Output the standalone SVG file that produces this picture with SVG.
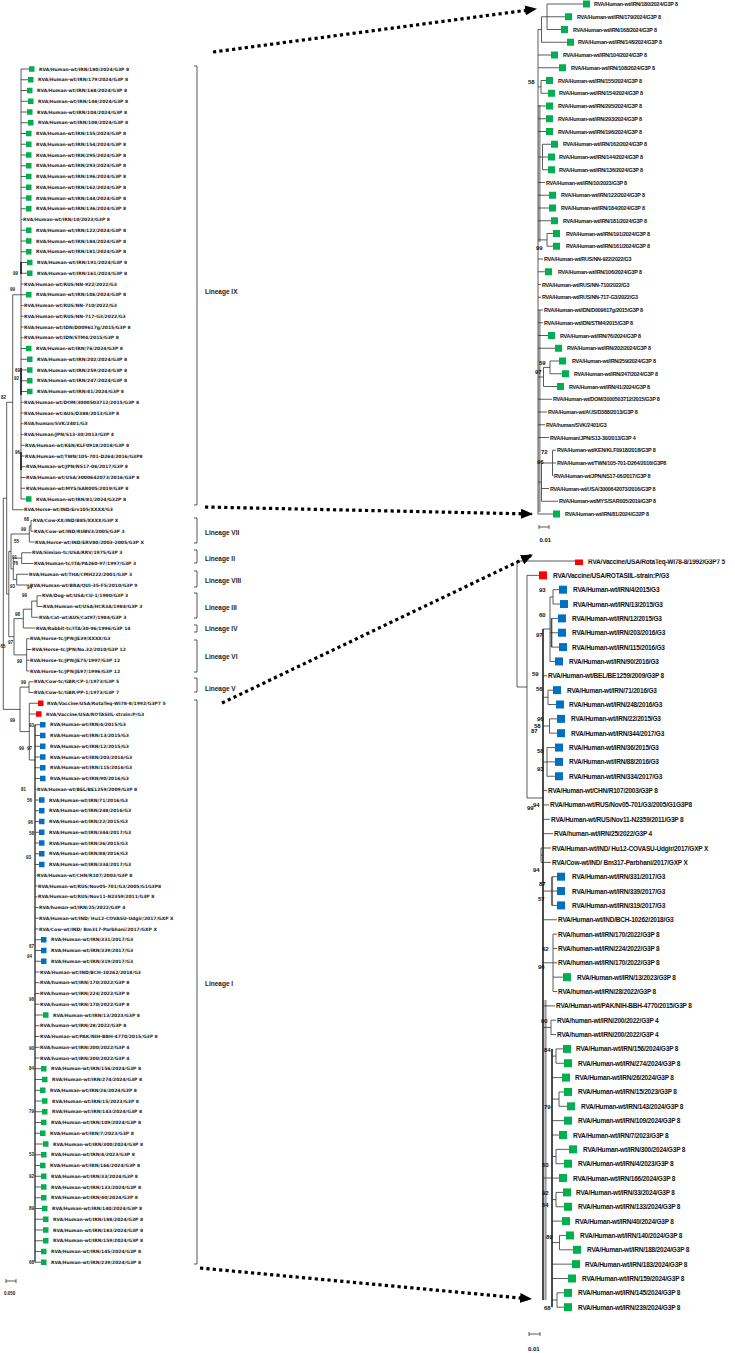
<svg xmlns="http://www.w3.org/2000/svg" width="735" height="1353" viewBox="0 0 735 1353">
<style>
.e{fill:none;stroke:#333;stroke-width:0.8}
.k{fill:none;stroke:#111;stroke-width:1.5}
.gy{fill:none;stroke:#9a9a9a;stroke-width:2.2}
.sg{fill:#00B050}.sb{fill:#0070C0}.sr{fill:#FF0000}
.t1{font-family:"DejaVu Sans",sans-serif;font-weight:bold;font-size:4.5px;fill:#222;dominant-baseline:central}
.t2{font-family:"Liberation Sans",Arial,sans-serif;font-weight:bold;font-size:5.4px;letter-spacing:-0.2px;fill:#111;dominant-baseline:central}
.t3{font-family:"Liberation Sans",Arial,sans-serif;font-weight:bold;font-size:6.5px;letter-spacing:-0.2px;fill:#111;dominant-baseline:central}
.b1{font-family:"Liberation Sans",Arial,sans-serif;font-weight:bold;font-size:4.5px;fill:#222;dominant-baseline:central}
.b2{font-family:"Liberation Sans",Arial,sans-serif;font-weight:bold;font-size:6px;fill:#111;dominant-baseline:central}
.ln{font-family:"Liberation Sans",Arial,sans-serif;font-weight:bold;font-size:6.5px;fill:#222;dominant-baseline:central}
.br{fill:none;stroke:#555;stroke-width:1}
.dt{fill:none;stroke:#000;stroke-width:3.2;stroke-dasharray:3.2 3.2}
</style>
<defs>
<marker id="ah" viewBox="0 0 12 10" refX="11" refY="5" markerWidth="12" markerHeight="10" markerUnits="userSpaceOnUse" orient="auto"><path d="M0,0 L12,5 L0,10 z" fill="#000"/></marker>
<clipPath id="cut"><rect x="500" y="559.5" width="235" height="20"/></clipPath>
</defs>
<rect width="735" height="1353" fill="#fff"/>

<g id="edges">
<path class="e" d="M21,69V499 M21,69H29 M21,79.75H28 M21,90.5H27 M21,101.25H28 M21,112H27 M21,122.75H28 M21,133.5H26 M21,144.25H26 M21,155H26 M21,165.75H26 M21,176.5H26 M21,187.25H26 M21,198H26 M21,208.75H26 M21,219.5H22.5 M21,230.25H26 M21,241H26 M21,251.75H26 M21,262.5H27 M21,273.25H27 M21,284H23.5 M21,294.75H26 M21,305.5H23.5 M21,316.25H23.5 M21,327H23.5 M21,337.75H23.5 M21,348.5H26 M21,359.25H27 M21,370H27 M21,380.75H27 M21,391.5H27 M21,402.25H23.5 M21,413H23.5 M21,423.75H23.5 M21,434.5H23.5 M21,445.25H24.5 M21,456H24.5 M21,466.75H25.5 M21,477.5H25.5 M21,488.25H25.5 M21,499H26"/>
<path class="k" d="M21,262V274 M21,368V395 M21,452V470"/>
<path class="e" d="M12.7,294.75H21 M12.7,294.75V509.75H23.5 M6.7,402.25H12.7 M6.7,402.25V594.1 M3.3,498.2H6.7 M3.3,498.2V709.4H20 M6.7,594.1H8.8 M8.8,551.5V636.7 M8.8,551.5H11 M8.8,636.7H14 M11,534V568.9 M11,534H29.3 M11,568.9H13.3 M29.3,525.9V542 M29.3,525.9H31 M31,520.5V531.25 M31,520.5H32.5 M31,531.25H33.5 M29.3,542H34.5 M13.3,558.1V579.6 M13.3,558.1H21.7 M13.3,579.6H16.7 M21.7,552.75V563.5 M21.7,552.75H31.5 M21.7,563.5H33.5 M16.7,574.25V585 M16.7,574.25H28.5 M16.7,585H29.5 M14,618.6V654.9 M14,618.6H23.3 M14,654.9H26.7 M23.3,609.2V628 M23.3,609.2H31.7 M23.3,628H35.5 M31.7,601.1V617.25 M31.7,601.1H37 M31.7,617.25H38.5 M37,595.75V606.5 M37,595.75H41.5 M37,606.5H42.5 M26.7,638.75V671 M26.7,638.75H29.5 M26.7,649.5H31.5 M26.7,660.25H29.5 M26.7,671H29.5 M20,687.1V731.6 M20,687.1H29 M20,731.6H29.3 M29,681.75V692.5 M29,681.75H33.5 M29,692.5H33.5 M29.3,703.25V760 M29.3,703.25H38 M29.3,714H36 M29.3,760H35"/>
<path class="k" d="M35,724.75V1262.25" style="stroke-width:1.2"/>
<path class="e" d="M35,724.75H40 M35,735.5H40 M35,746.25H40 M35,757H40 M35,767.75H40 M35,778.5H40 M35,789.25H36.5 M35,800H39 M35,810.75H39 M35,821.5H39 M35,832.25H39 M35,843H39 M35,853.75H39 M35,864.5H39 M35,875.25H36.5 M35,886H37.5 M35,896.75H37.5 M35,907.5H38.5 M35,918.25H38.5 M35,929H38.5 M35,939.75H41 M35,950.5H41 M35,961.25H41 M35,972H39.5 M35,982.75H39.5 M35,993.5H39.5 M35,1004.25H39.5 M35,1015H43 M35,1025.75H39.5 M35,1036.5H39.5 M35,1047.25H39.5 M35,1058H39.5 M35,1068.75H41 M35,1079.5H42 M35,1090.25H40 M35,1101H42 M35,1111.75H42 M35,1122.5H41 M35,1133.25H40 M35,1144H43 M35,1154.75H41 M35,1165.5H40 M35,1176.25H41 M35,1187H41 M35,1197.75H41 M35,1208.5H42 M35,1219.25H43 M35,1230H43 M35,1240.75H43 M35,1251.5H41 M35,1262.25H41"/>
<path class="e" d="M6,1281H16 M6,1279V1283 M16,1279V1283"/>
<path class="gy" d="M539.5,105V242 M539.5,310V512"/>
<path class="e" d="M538,29.5V514 M538,29.5H541.5 M541.5,16.75V42.25 M541.5,16.75H547 M541.5,42.25H567 M547,4V29.5 M547,4H583 M547,16.75H565 M547,29.5H561 M538,55H551 M538,67.75H559 M538,86.9H541 M541,80.5V93.25 M541,80.5H546 M541,93.25H548 M538,106H546 M538,118.75H546 M538,131.5H546 M538,157H542.5 M542.5,144.25V169.75 M542.5,144.25H551 M542.5,157H548 M542.5,169.75H548 M538,182.5H545 M538,195.25H549 M538,208H549 M538,220.75H551 M538,239.9H547 M547,233.5V246.25 M547,233.5H553 M547,246.25H553 M538,259H543 M538,271.75H545 M538,284.5H541 M538,297.25H541 M538,310H543 M538,322.75H543 M538,335.5H548 M538,348.25H555 M538,377H543.5 M543.5,367.4V386.5 M543.5,367.4H550 M550,361V373.75 M550,361H559 M550,373.75H562 M543.5,386.5H557 M538,399.25H552 M538,412H547 M538,424.75H545 M538,437.5H549 M538,482.1H541.5 M541.5,463V501.25 M541.5,463H552.5 M552.5,450.25V475.75 M552.5,450.25H556 M552.5,463H556 M552.5,475.75H553.5 M541.5,488.5H549 M541.5,501.25H558 M538,514H553"/>
<path class="e" d="M539,527H549 M539,525V529 M549,525V529"/>
<path class="gy" d="M551.5,618.4V647.1 M552,876.7V905.4 M545.5,1000V1300"/>
<path class="e" d="M517,561V687 M517,561H575 M517,687H527 M527,575.35V798 M527,575.35H539 M527,798H543"/>
<path class="k" d="M543,629V1300 M552,1048.9V1307.2"/>
<path class="e" d="M543,629H550 M550,596.9V661.45 M550,596.9H553 M553,589.7V604.05 M553,589.7H559 M553,604.05H560 M550,632.75H551.5 M551.5,618.4V647.1 M551.5,618.4H558 M551.5,632.75H558 M551.5,647.1H559 M550,661.45H555 M543,675.8H547 M543,697.3H548 M548,690.15V704.5 M548,690.15H553 M548,704.5H556 M543,726H549.5 M549.5,718.85V733.2 M549.5,718.85H557 M549.5,733.2H557 M543,762H547 M547,747.55V776.25 M547,747.55H555 M547,761.9H555 M547,776.25H555 M543,790.6H547 M543,804.95H549 M543,819.3H550 M543,833.65H553 M543,855.2H541 M541,848V862.35 M541,848H551 M541,862.35H551 M543,891.05H552 M552,876.7V905.4 M552,876.7H557 M552,891.05H557 M552,905.4H557 M543,919.75H557 M543,962.8H553 M553,934.1V991.5 M553,934.1H557 M553,948.45H557 M553,962.8H557 M553,977.15H563 M553,991.5H557 M543,1005.85H555 M543,1027.4H551 M551,1020.2V1034.55 M551,1020.2H556 M551,1034.55H556 M543,1178H552 M552,1056.1H556 M556,1048.9V1063.25 M556,1048.9H563 M556,1063.25H564 M552,1077.6H562 M552,1099.1H559 M559,1091.95V1106.3 M559,1091.95H564 M559,1106.3H567 M552,1120.65H564 M552,1135H559 M552,1156.5H556 M556,1149.35V1163.7 M556,1149.35H569 M556,1163.7H564 M552,1178.05H559 M552,1199.6H556 M556,1192.4V1206.75 M556,1192.4H563 M556,1206.75H564 M552,1221.1H562 M552,1242.6H559.5 M559.5,1235.45V1249.8 M559.5,1235.45H566 M559.5,1249.8H573 M552,1264.15H572 M552,1278.5H568 M552,1300H557 M557,1292.85V1307.2 M557,1292.85H564 M557,1307.2H564"/>
<path class="e" d="M529,1334H540 M529,1332V1336 M540,1332V1336"/>
</g>

<g id="connectors">
<path class="dt" d="M213,52 L536,9" marker-end="url(#ah)"/>
<path class="dt" d="M205,507 L532,514" marker-end="url(#ah)"/>
<path class="dt" d="M222,703 L532,555" marker-end="url(#ah)"/>
<path class="dt" d="M200,1268 L531,1299" marker-end="url(#ah)"/>
</g>

<g id="lineages">
<path class="br" d="M194,66H197V505H194 M194,518H197V543H194 M194,550H197V563H194 M194,571H197V587H194 M194,593H197V618H194 M194,625H197V632H194 M194,640H197V672H194 M194,678H197V692H194 M194,700H197V1264H194"/>
<text class="ln" x="205" y="291">Lineage IX</text>
<text class="ln" x="205" y="532">Lineage VII</text>
<text class="ln" x="205" y="558">Lineage II</text>
<text class="ln" x="205" y="580">Lineage VIII</text>
<text class="ln" x="205" y="607">Lineage III</text>
<text class="ln" x="205" y="628">Lineage IV</text>
<text class="ln" x="205" y="656">Lineage VI</text>
<text class="ln" x="205" y="688">Lineage V</text>
<text class="ln" x="205" y="983">Lineage I</text>
</g>

<g id="bootstrap">
<text class="b1" x="13" y="273">99</text>
<text class="b1" x="10" y="289">99</text>
<text class="b1" x="15" y="370">69</text>
<text class="b1" x="14" y="378">92</text>
<text class="b1" x="1" y="397">82</text>
<text class="b1" x="15" y="452">96</text>
<text class="b1" x="24" y="519">68</text>
<text class="b1" x="21" y="529">99</text>
<text class="b1" x="14" y="541">55</text>
<text class="b1" x="12" y="557">91</text>
<text class="b1" x="13" y="563">76</text>
<text class="b1" x="10" y="586">93</text>
<text class="b1" x="27" y="587">94</text>
<text class="b1" x="22" y="595">99</text>
<text class="b1" x="15" y="614">98</text>
<text class="b1" x="8" y="642">97</text>
<text class="b1" x="0.5" y="646">65</text>
<text class="b1" x="17" y="661">99</text>
<text class="b1" x="21" y="682">99</text>
<text class="b1" x="10" y="720">99</text>
<text class="b1" x="29" y="725">93</text>
<text class="b1" x="19" y="748">99</text>
<text class="b1" x="27" y="748">97</text>
<text class="b1" x="21" y="789">81</text>
<text class="b1" x="27" y="800">56</text>
<text class="b1" x="28" y="822">96</text>
<text class="b1" x="29" y="833">58</text>
<text class="b1" x="26" y="857">93</text>
<text class="b1" x="29" y="946">87</text>
<text class="b1" x="27" y="956">94</text>
<text class="b1" x="29" y="999">96</text>
<text class="b1" x="29" y="1048">90</text>
<text class="b1" x="29" y="1068">84</text>
<text class="b1" x="29" y="1111">79</text>
<text class="b1" x="29" y="1154">53</text>
<text class="b1" x="29" y="1176">92</text>
<text class="b1" x="29" y="1208">89</text>
<text class="b1" x="29" y="1262">68</text>
<text class="b1" x="4" y="1293">0.050</text>
<text class="b2" x="528" y="82">58</text>
<text class="b2" x="536" y="248">99</text>
<text class="b2" x="539" y="363">59</text>
<text class="b2" x="535" y="372">97</text>
<text class="b2" x="541" y="452">72</text>
<text class="b2" x="537" y="462">96</text>
<text class="b2" x="539.5" y="540">0.01</text>
<text class="b2" x="539" y="590">93</text>
<text class="b2" x="539" y="615">60</text>
<text class="b2" x="536" y="635">97</text>
<text class="b2" x="532" y="674">59</text>
<text class="b2" x="536" y="689">56</text>
<text class="b2" x="537" y="719">96</text>
<text class="b2" x="534" y="726">58</text>
<text class="b2" x="531" y="731">87</text>
<text class="b2" x="537" y="751">58</text>
<text class="b2" x="537" y="769">93</text>
<text class="b2" x="527" y="808">99</text>
<text class="b2" x="533" y="805">94</text>
<text class="b2" x="533" y="870">94</text>
<text class="b2" x="539" y="884">87</text>
<text class="b2" x="538" y="899">57</text>
<text class="b2" x="542" y="949">62</text>
<text class="b2" x="538" y="967">96</text>
<text class="b2" x="541" y="1021">90</text>
<text class="b2" x="544" y="1050">84</text>
<text class="b2" x="544" y="1107">79</text>
<text class="b2" x="542" y="1165">53</text>
<text class="b2" x="542" y="1193">92</text>
<text class="b2" x="542" y="1205">54</text>
<text class="b2" x="546" y="1237">89</text>
<text class="b2" x="544" y="1308">68</text>
<text class="b2" x="528" y="1349">0.01</text>
</g>

<g id="left-leaves">
<g id="l1"><rect class="sg" x="29" y="66.25" width="5.5" height="5.5"/><text class="t1" x="39" y="69">RVA/Human-wt/IRN/180/2024/G3P 8</text></g>
<g id="l2"><rect class="sg" x="28" y="77" width="5.5" height="5.5"/><text class="t1" x="38" y="79.75">RVA/Human-wt/IRN/179/2024/G3P 8</text></g>
<g id="l3"><rect class="sg" x="27" y="87.75" width="5.5" height="5.5"/><text class="t1" x="37" y="90.5">RVA/Human-wt/IRN/168/2024/G3P 8</text></g>
<g id="l4"><rect class="sg" x="28" y="98.5" width="5.5" height="5.5"/><text class="t1" x="38" y="101.25">RVA/Human-wt/IRN/148/2024/G3P 8</text></g>
<g id="l5"><rect class="sg" x="27" y="109.25" width="5.5" height="5.5"/><text class="t1" x="37" y="112">RVA/Human-wt/IRN/104/2024/G3P 8</text></g>
<g id="l6"><rect class="sg" x="28" y="120" width="5.5" height="5.5"/><text class="t1" x="38" y="122.75">RVA/Human-wt/IRN/108/2024/G3P 8</text></g>
<g id="l7"><rect class="sg" x="26" y="130.75" width="5.5" height="5.5"/><text class="t1" x="36" y="133.5">RVA/Human-wt/IRN/155/2024/G3P 8</text></g>
<g id="l8"><rect class="sg" x="26" y="141.5" width="5.5" height="5.5"/><text class="t1" x="36" y="144.25">RVA/Human-wt/IRN/154/2024/G3P 8</text></g>
<g id="l9"><rect class="sg" x="26" y="152.25" width="5.5" height="5.5"/><text class="t1" x="36" y="155">RVA/Human-wt/IRN/295/2024/G3P 8</text></g>
<g id="l10"><rect class="sg" x="26" y="163" width="5.5" height="5.5"/><text class="t1" x="36" y="165.75">RVA/Human-wt/IRN/293/2024/G3P 8</text></g>
<g id="l11"><rect class="sg" x="26" y="173.75" width="5.5" height="5.5"/><text class="t1" x="36" y="176.5">RVA/Human-wt/IRN/196/2024/G3P 8</text></g>
<g id="l12"><rect class="sg" x="26" y="184.5" width="5.5" height="5.5"/><text class="t1" x="36" y="187.25">RVA/Human-wt/IRN/162/2024/G3P 8</text></g>
<g id="l13"><rect class="sg" x="26" y="195.25" width="5.5" height="5.5"/><text class="t1" x="36" y="198">RVA/Human-wt/IRN/144/2024/G3P 8</text></g>
<g id="l14"><rect class="sg" x="26" y="206" width="5.5" height="5.5"/><text class="t1" x="36" y="208.75">RVA/Human-wt/IRN/136/2024/G3P 8</text></g>
<g id="l15"><text class="t1" x="23" y="219.5">RVA/Human-wt/IRN/10/2023/G3P 8</text></g>
<g id="l16"><rect class="sg" x="26" y="227.5" width="5.5" height="5.5"/><text class="t1" x="36" y="230.25">RVA/Human-wt/IRN/122/2024/G3P 8</text></g>
<g id="l17"><rect class="sg" x="26" y="238.25" width="5.5" height="5.5"/><text class="t1" x="36" y="241">RVA/Human-wt/IRN/184/2024/G3P 8</text></g>
<g id="l18"><rect class="sg" x="26" y="249" width="5.5" height="5.5"/><text class="t1" x="36" y="251.75">RVA/Human-wt/IRN/181/2024/G3P 8</text></g>
<g id="l19"><rect class="sg" x="27" y="259.75" width="5.5" height="5.5"/><text class="t1" x="37" y="262.5">RVA/Human-wt/IRN/191/2024/G3P 8</text></g>
<g id="l20"><rect class="sg" x="27" y="270.5" width="5.5" height="5.5"/><text class="t1" x="37" y="273.25">RVA/Human-wt/IRN/161/2024/G3P 8</text></g>
<g id="l21"><text class="t1" x="24" y="284">RVA/Human-wt/RUS/NN-922/2022/G3</text></g>
<g id="l22"><rect class="sg" x="26" y="292" width="5.5" height="5.5"/><text class="t1" x="36" y="294.75">RVA/Human-wt/IRN/106/2024/G3P 8</text></g>
<g id="l23"><text class="t1" x="24" y="305.5">RVA/Human-wt/RUS/NN-710/2022/G3</text></g>
<g id="l24"><text class="t1" x="24" y="316.25">RVA/Human-wt/RUS/NN-717-G3/2022/G3</text></g>
<g id="l25"><text class="t1" x="24" y="327">RVA/Human-wt/IDN/D009617g/2015/G3P 8</text></g>
<g id="l26"><text class="t1" x="24" y="337.75">RVA/Human-wt/IDN/STM4/2015/G3P 8</text></g>
<g id="l27"><rect class="sg" x="26" y="345.75" width="5.5" height="5.5"/><text class="t1" x="36" y="348.5">RVA/Human-wt/IRN/76/2024/G3P 8</text></g>
<g id="l28"><rect class="sg" x="27" y="356.5" width="5.5" height="5.5"/><text class="t1" x="37" y="359.25">RVA/Human-wt/IRN/202/2024/G3P 8</text></g>
<g id="l29"><rect class="sg" x="27" y="367.25" width="5.5" height="5.5"/><text class="t1" x="37" y="370">RVA/Human-wt/IRN/259/2024/G3P 8</text></g>
<g id="l30"><rect class="sg" x="27" y="378" width="5.5" height="5.5"/><text class="t1" x="37" y="380.75">RVA/Human-wt/IRN/247/2024/G3P 8</text></g>
<g id="l31"><rect class="sg" x="27" y="388.75" width="5.5" height="5.5"/><text class="t1" x="37" y="391.5">RVA/Human-wt/IRN/41/2024/G3P 8</text></g>
<g id="l32"><text class="t1" x="24" y="402.25">RVA/Human-wt/DOM/3000503712/2015/G3P 8</text></g>
<g id="l33"><text class="t1" x="24" y="413">RVA/Human-wt/AUS/D388/2013/G3P 8</text></g>
<g id="l34"><text class="t1" x="24" y="423.75">RVA/human/SVK/2401/G3</text></g>
<g id="l35"><text class="t1" x="24" y="434.5">RVA/Human/JPN/S13-30/2013/G3P 4</text></g>
<g id="l36"><text class="t1" x="25" y="445.25">RVA/Human-wt/KEN/KLF0918/2018/G3P 8</text></g>
<g id="l37"><text class="t1" x="25" y="456">RVA/Human-wt/TWN/105-701-D264/2016/G3P8</text></g>
<g id="l38"><text class="t1" x="26" y="466.75">RVA/Human-wt/JPN/NS17-06/2017/G3P 8</text></g>
<g id="l39"><text class="t1" x="26" y="477.5">RVA/Human-wt/USA/3000642073/2016/G3P 8</text></g>
<g id="l40"><text class="t1" x="26" y="488.25">RVA/Human-wt/MYS/SAR005/2019/G3P 8</text></g>
<g id="l41"><rect class="sg" x="26" y="496.25" width="5.5" height="5.5"/><text class="t1" x="36" y="499">RVA/Human-wt/IRN/81/2024/G32P 8</text></g>
<g id="l42"><text class="t1" x="24" y="509.75">RVA/Horse-wt/IND/Erv105/XXXX/G3</text></g>
<g id="l43"><text class="t1" x="33" y="520.5">RVA/Cow-XX/IND/B85/XXXX/G3P X</text></g>
<g id="l44"><text class="t1" x="34" y="531.25">RVA/Cow-wt/IND/RUBV3/2005/G3P 3</text></g>
<g id="l45"><text class="t1" x="35" y="542">RVA/Horse-wt/IND/ERV80/2003-2005/G3P X</text></g>
<g id="l46"><text class="t1" x="32" y="552.75">RVA/Simian-tc/USA/RRV/1975/G3P 3</text></g>
<g id="l47"><text class="t1" x="34" y="563.5">RVA/Human-tc/ITA/PA260-97/1997/G3P 3</text></g>
<g id="l48"><text class="t1" x="29" y="574.25">RVA/Human-wt/THA/CMH222/2001/G3P 3</text></g>
<g id="l49"><text class="t1" x="30" y="585">RVA/Human-wt/BRA/QUI-35-F5/2010/G3P 9</text></g>
<g id="l50"><text class="t1" x="42" y="595.75">RVA/Dog-wt/USA/CU-1/1980/G3P 3</text></g>
<g id="l51"><text class="t1" x="43" y="606.5">RVA/Human-wt/USA/HCR3A/1984/G3P 3</text></g>
<g id="l52"><text class="t1" x="39" y="617.25">RVA/Cat-wt/AUS/Cat97/1984/G3P 3</text></g>
<g id="l53"><text class="t1" x="36" y="628">RVA/Rabbit-tc/ITA/30-96/1996/G3P 14</text></g>
<g id="l54"><text class="t1" x="30" y="638.75">RVA/Horse-tc/JPN/JE39/XXXX/G3</text></g>
<g id="l55"><text class="t1" x="32" y="649.5">RVA/Horse-tc/JPN/No.32/2010/G3P 12</text></g>
<g id="l56"><text class="t1" x="30" y="660.25">RVA/Horse-tc/JPN/JE75/1997/G3P 12</text></g>
<g id="l57"><text class="t1" x="30" y="671">RVA/Horse-tc/JPN/JE97/1996/G3P 12</text></g>
<g id="l58"><text class="t1" x="34" y="681.75">RVA/Cow-tc/GBR/CP-1/1973/G3P 5</text></g>
<g id="l59"><text class="t1" x="34" y="692.5">RVA/Cow-tc/GBR/PP-1/1973/G3P 7</text></g>
<g id="l60"><rect class="sr" x="38" y="700.5" width="5.5" height="5.5"/><text class="t1" x="47" y="703.25">RVA/Vaccine/USA/RotaTeq-WI78-8/1992/G3P7 5</text></g>
<g id="l61"><rect class="sr" x="36" y="711.25" width="5.5" height="5.5"/><text class="t1" x="46" y="714">RVA/Vaccine/USA/ROTASIIL-strain:P/G3</text></g>
<g id="l62"><rect class="sb" x="40" y="722" width="5.5" height="5.5"/><text class="t1" x="50" y="724.75">RVA/Human-wt/IRN/4/2015/G3</text></g>
<g id="l63"><rect class="sb" x="40" y="732.75" width="5.5" height="5.5"/><text class="t1" x="50" y="735.5">RVA/Human-wt/IRN/13/2015/G3</text></g>
<g id="l64"><rect class="sb" x="40" y="743.5" width="5.5" height="5.5"/><text class="t1" x="50" y="746.25">RVA/Human-wt/IRN/12/2015/G3</text></g>
<g id="l65"><rect class="sb" x="40" y="754.25" width="5.5" height="5.5"/><text class="t1" x="50" y="757">RVA/Human-wt/IRN/203/2016/G3</text></g>
<g id="l66"><rect class="sb" x="40" y="765" width="5.5" height="5.5"/><text class="t1" x="50" y="767.75">RVA/Human-wt/IRN/115/2016/G3</text></g>
<g id="l67"><rect class="sb" x="40" y="775.75" width="5.5" height="5.5"/><text class="t1" x="50" y="778.5">RVA/Human-wt/IRN/90/2016/G3</text></g>
<g id="l68"><text class="t1" x="37" y="789.25">RVA/Human-wt/BEL/BE1259/2009/G3P 8</text></g>
<g id="l69"><rect class="sb" x="39" y="797.25" width="5.5" height="5.5"/><text class="t1" x="49" y="800">RVA/Human-wt/IRN/71/2016/G3</text></g>
<g id="l70"><rect class="sb" x="39" y="808" width="5.5" height="5.5"/><text class="t1" x="49" y="810.75">RVA/Human-wt/IRN/248/2016/G3</text></g>
<g id="l71"><rect class="sb" x="39" y="818.75" width="5.5" height="5.5"/><text class="t1" x="49" y="821.5">RVA/Human-wt/IRN/22/2015/G3</text></g>
<g id="l72"><rect class="sb" x="39" y="829.5" width="5.5" height="5.5"/><text class="t1" x="49" y="832.25">RVA/Human-wt/IRN/344/2017/G3</text></g>
<g id="l73"><rect class="sb" x="39" y="840.25" width="5.5" height="5.5"/><text class="t1" x="49" y="843">RVA/Human-wt/IRN/36/2015/G3</text></g>
<g id="l74"><rect class="sb" x="39" y="851" width="5.5" height="5.5"/><text class="t1" x="49" y="853.75">RVA/Human-wt/IRN/88/2016/G3</text></g>
<g id="l75"><rect class="sb" x="39" y="861.75" width="5.5" height="5.5"/><text class="t1" x="49" y="864.5">RVA/Human-wt/IRN/334/2017/G3</text></g>
<g id="l76"><text class="t1" x="37" y="875.25">RVA/Human-wt/CHN/R107/2003/G3P 8</text></g>
<g id="l77"><text class="t1" x="38" y="886">RVA/Human-wt/RUS/Nov05-701/G3/2005/G1G3P8</text></g>
<g id="l78"><text class="t1" x="38" y="896.75">RVA/Human-wt/RUS/Nov11-N2359/2011/G3P 8</text></g>
<g id="l79"><text class="t1" x="39" y="907.5">RVA/human-wt/IRN/25/2022/G3P 4</text></g>
<g id="l80"><text class="t1" x="39" y="918.25">RVA/Human-wt/IND/ Hu12-COVASU-Udgir/2017/GXP X</text></g>
<g id="l81"><text class="t1" x="39" y="929">RVA/Cow-wt/IND/ Bm317-Parbhani/2017/GXP X</text></g>
<g id="l82"><rect class="sb" x="41" y="937" width="5.5" height="5.5"/><text class="t1" x="51" y="939.75">RVA/Human-wt/IRN/331/2017/G3</text></g>
<g id="l83"><rect class="sb" x="41" y="947.75" width="5.5" height="5.5"/><text class="t1" x="51" y="950.5">RVA/Human-wt/IRN/339/2017/G3</text></g>
<g id="l84"><rect class="sb" x="41" y="958.5" width="5.5" height="5.5"/><text class="t1" x="51" y="961.25">RVA/Human-wt/IRN/319/2017/G3</text></g>
<g id="l85"><text class="t1" x="40" y="972">RVA/Human-wt/IND/BCH-10262/2018/G3</text></g>
<g id="l86"><text class="t1" x="40" y="982.75">RVA/human-wt/IRN/170/2022/G3P 8</text></g>
<g id="l87"><text class="t1" x="40" y="993.5">RVA/human-wt/IRN/224/2022/G3P 8</text></g>
<g id="l88"><text class="t1" x="40" y="1004.25">RVA/human-wt/IRN/170/2022/G3P 8</text></g>
<g id="l89"><rect class="sg" x="43" y="1012.25" width="5.5" height="5.5"/><text class="t1" x="53" y="1015">RVA/Human-wt/IRN/13/2023/G3P 8</text></g>
<g id="l90"><text class="t1" x="40" y="1025.75">RVA/human-wt/IRN/28/2022/G3P 8</text></g>
<g id="l91"><text class="t1" x="40" y="1036.5">RVA/Human-wt/PAK/NIH-BBH-4770/2015/G3P 8</text></g>
<g id="l92"><text class="t1" x="40" y="1047.25">RVA/human-wt/IRN/200/2022/G3P 4</text></g>
<g id="l93"><text class="t1" x="40" y="1058">RVA/human-wt/IRN/200/2022/G3P 4</text></g>
<g id="l94"><rect class="sg" x="41" y="1066" width="5.5" height="5.5"/><text class="t1" x="51" y="1068.75">RVA/Human-wt/IRN/156/2024/G3P 8</text></g>
<g id="l95"><rect class="sg" x="42" y="1076.75" width="5.5" height="5.5"/><text class="t1" x="52" y="1079.5">RVA/Human-wt/IRN/274/2024/G3P 8</text></g>
<g id="l96"><rect class="sg" x="40" y="1087.5" width="5.5" height="5.5"/><text class="t1" x="50" y="1090.25">RVA/Human-wt/IRN/26/2024/G3P 8</text></g>
<g id="l97"><rect class="sg" x="42" y="1098.25" width="5.5" height="5.5"/><text class="t1" x="52" y="1101">RVA/Human-wt/IRN/15/2023/G3P 8</text></g>
<g id="l98"><rect class="sg" x="42" y="1109" width="5.5" height="5.5"/><text class="t1" x="52" y="1111.75">RVA/Human-wt/IRN/143/2024/G3P 8</text></g>
<g id="l99"><rect class="sg" x="41" y="1119.75" width="5.5" height="5.5"/><text class="t1" x="51" y="1122.5">RVA/Human-wt/IRN/109/2024/G3P 8</text></g>
<g id="l100"><rect class="sg" x="40" y="1130.5" width="5.5" height="5.5"/><text class="t1" x="50" y="1133.25">RVA/Human-wt/IRN/7/2023/G3P 8</text></g>
<g id="l101"><rect class="sg" x="43" y="1141.25" width="5.5" height="5.5"/><text class="t1" x="53" y="1144">RVA/Human-wt/IRN/300/2024/G3P 8</text></g>
<g id="l102"><rect class="sg" x="41" y="1152" width="5.5" height="5.5"/><text class="t1" x="51" y="1154.75">RVA/Human-wt/IRN/4/2023/G3P 8</text></g>
<g id="l103"><rect class="sg" x="40" y="1162.75" width="5.5" height="5.5"/><text class="t1" x="50" y="1165.5">RVA/Human-wt/IRN/166/2024/G3P 8</text></g>
<g id="l104"><rect class="sg" x="41" y="1173.5" width="5.5" height="5.5"/><text class="t1" x="51" y="1176.25">RVA/Human-wt/IRN/33/2024/G3P 8</text></g>
<g id="l105"><rect class="sg" x="41" y="1184.25" width="5.5" height="5.5"/><text class="t1" x="51" y="1187">RVA/Human-wt/IRN/133/2024/G3P 8</text></g>
<g id="l106"><rect class="sg" x="41" y="1195" width="5.5" height="5.5"/><text class="t1" x="51" y="1197.75">RVA/Human-wt/IRN/40/2024/G3P 8</text></g>
<g id="l107"><rect class="sg" x="42" y="1205.75" width="5.5" height="5.5"/><text class="t1" x="52" y="1208.5">RVA/Human-wt/IRN/140/2024/G3P 8</text></g>
<g id="l108"><rect class="sg" x="43" y="1216.5" width="5.5" height="5.5"/><text class="t1" x="53" y="1219.25">RVA/Human-wt/IRN/188/2024/G3P 8</text></g>
<g id="l109"><rect class="sg" x="43" y="1227.25" width="5.5" height="5.5"/><text class="t1" x="53" y="1230">RVA/Human-wt/IRN/183/2024/G3P 8</text></g>
<g id="l110"><rect class="sg" x="43" y="1238" width="5.5" height="5.5"/><text class="t1" x="53" y="1240.75">RVA/Human-wt/IRN/159/2024/G3P 8</text></g>
<g id="l111"><rect class="sg" x="41" y="1248.75" width="5.5" height="5.5"/><text class="t1" x="51" y="1251.5">RVA/Human-wt/IRN/145/2024/G3P 8</text></g>
<g id="l112"><rect class="sg" x="41" y="1259.5" width="5.5" height="5.5"/><text class="t1" x="51" y="1262.25">RVA/Human-wt/IRN/239/2024/G3P 8</text></g>
</g>

<g id="right-top-leaves">
<g id="rt1"><rect class="sg" x="583" y="0.5" width="7" height="7"/><text class="t2" x="594" y="4">RVA/Human-wt/IRN/180/2024/G3P 8</text></g>
<g id="rt2"><rect class="sg" x="565" y="13.25" width="7" height="7"/><text class="t2" x="577" y="16.75">RVA/Human-wt/IRN/179/2024/G3P 8</text></g>
<g id="rt3"><rect class="sg" x="561" y="26" width="7" height="7"/><text class="t2" x="573" y="29.5">RVA/Human-wt/IRN/168/2024/G3P 8</text></g>
<g id="rt4"><rect class="sg" x="567" y="38.75" width="7" height="7"/><text class="t2" x="578" y="42.25">RVA/Human-wt/IRN/148/2024/G3P 8</text></g>
<g id="rt5"><rect class="sg" x="551" y="51.5" width="7" height="7"/><text class="t2" x="563" y="55">RVA/Human-wt/IRN/104/2024/G3P 8</text></g>
<g id="rt6"><rect class="sg" x="559" y="64.25" width="7" height="7"/><text class="t2" x="571" y="67.75">RVA/Human-wt/IRN/108/2024/G3P 8</text></g>
<g id="rt7"><rect class="sg" x="546" y="77" width="7" height="7"/><text class="t2" x="558" y="80.5">RVA/Human-wt/IRN/155/2024/G3P 8</text></g>
<g id="rt8"><rect class="sg" x="548" y="89.75" width="7" height="7"/><text class="t2" x="559" y="93.25">RVA/Human-wt/IRN/154/2024/G3P 8</text></g>
<g id="rt9"><rect class="sg" x="546" y="102.5" width="7" height="7"/><text class="t2" x="558" y="106">RVA/Human-wt/IRN/295/2024/G3P 8</text></g>
<g id="rt10"><rect class="sg" x="546" y="115.25" width="7" height="7"/><text class="t2" x="558" y="118.75">RVA/Human-wt/IRN/293/2024/G3P 8</text></g>
<g id="rt11"><rect class="sg" x="546" y="128" width="7" height="7"/><text class="t2" x="558" y="131.5">RVA/Human-wt/IRN/196/2024/G3P 8</text></g>
<g id="rt12"><rect class="sg" x="551" y="140.75" width="7" height="7"/><text class="t2" x="563" y="144.25">RVA/Human-wt/IRN/162/2024/G3P 8</text></g>
<g id="rt13"><rect class="sg" x="548" y="153.5" width="7" height="7"/><text class="t2" x="559" y="157">RVA/Human-wt/IRN/144/2024/G3P 8</text></g>
<g id="rt14"><rect class="sg" x="548" y="166.25" width="7" height="7"/><text class="t2" x="559" y="169.75">RVA/Human-wt/IRN/136/2024/G3P 8</text></g>
<g id="rt15"><text class="t2" x="546" y="182.5">RVA/Human-wt/IRN/10/2023/G3P 8</text></g>
<g id="rt16"><rect class="sg" x="549" y="191.75" width="7" height="7"/><text class="t2" x="561" y="195.25">RVA/Human-wt/IRN/122/2024/G3P 8</text></g>
<g id="rt17"><rect class="sg" x="549" y="204.5" width="7" height="7"/><text class="t2" x="561" y="208">RVA/Human-wt/IRN/184/2024/G3P 8</text></g>
<g id="rt18"><rect class="sg" x="551" y="217.25" width="7" height="7"/><text class="t2" x="563" y="220.75">RVA/Human-wt/IRN/181/2024/G3P 8</text></g>
<g id="rt19"><rect class="sg" x="553" y="230" width="7" height="7"/><text class="t2" x="566" y="233.5">RVA/Human-wt/IRN/191/2024/G3P 8</text></g>
<g id="rt20"><rect class="sg" x="553" y="242.75" width="7" height="7"/><text class="t2" x="566" y="246.25">RVA/Human-wt/IRN/161/2024/G3P 8</text></g>
<g id="rt21"><text class="t2" x="544" y="259">RVA/Human-wt/RUS/NN-922/2022/G3</text></g>
<g id="rt22"><rect class="sg" x="545" y="268.25" width="7" height="7"/><text class="t2" x="558" y="271.75">RVA/Human-wt/IRN/106/2024/G3P 8</text></g>
<g id="rt23"><text class="t2" x="542" y="284.5">RVA/Human-wt/RUS/NN-710/2022/G3</text></g>
<g id="rt24"><text class="t2" x="542" y="297.25">RVA/Human-wt/RUS/NN-717-G3/2022/G3</text></g>
<g id="rt25"><text class="t2" x="544" y="310">RVA/Human-wt/IDN/D009617g/2015/G3P 8</text></g>
<g id="rt26"><text class="t2" x="544" y="322.75">RVA/Human-wt/IDN/STM4/2015/G3P 8</text></g>
<g id="rt27"><rect class="sg" x="548" y="332" width="7" height="7"/><text class="t2" x="560" y="335.5">RVA/Human-wt/IRN/76/2024/G3P 8</text></g>
<g id="rt28"><rect class="sg" x="555" y="344.75" width="7" height="7"/><text class="t2" x="567" y="348.25">RVA/Human-wt/IRN/202/2024/G3P 8</text></g>
<g id="rt29"><rect class="sg" x="559" y="357.5" width="7" height="7"/><text class="t2" x="572" y="361">RVA/Human-wt/IRN/259/2024/G3P 8</text></g>
<g id="rt30"><rect class="sg" x="562" y="370.25" width="7" height="7"/><text class="t2" x="574" y="373.75">RVA/Human-wt/IRN/247/2024/G3P 8</text></g>
<g id="rt31"><rect class="sg" x="557" y="383" width="7" height="7"/><text class="t2" x="569" y="386.5">RVA/Human-wt/IRN/41/2024/G3P 8</text></g>
<g id="rt32"><text class="t2" x="553" y="399.25">RVA/Human-wt/DOM/3000503712/2015/G3P 8</text></g>
<g id="rt33"><text class="t2" x="548" y="412">RVA/Human-wt/AUS/D388/2013/G3P 8</text></g>
<g id="rt34"><text class="t2" x="546" y="424.75">RVA/human/SVK/2401/G3</text></g>
<g id="rt35"><text class="t2" x="550" y="437.5">RVA/Human/JPN/S13-30/2013/G3P 4</text></g>
<g id="rt36"><text class="t2" x="557" y="450.25">RVA/Human-wt/KEN/KLF0918/2018/G3P 8</text></g>
<g id="rt37"><text class="t2" x="557" y="463">RVA/Human-wt/TWN/105-701-D264/2016/G3P8</text></g>
<g id="rt38"><text class="t2" x="554" y="475.75">RVA/Human-wt/JPN/NS17-06/2017/G3P 8</text></g>
<g id="rt39"><text class="t2" x="550" y="488.5">RVA/Human-wt/USA/3000642073/2016/G3P 8</text></g>
<g id="rt40"><text class="t2" x="559" y="501.25">RVA/Human-wt/MYS/SAR005/2019/G3P 8</text></g>
<g id="rt41"><rect class="sg" x="553" y="510.5" width="7" height="7"/><text class="t2" x="565" y="514">RVA/Human-wt/IRN/81/2024/G32P 8</text></g>
</g>

<g id="right-bottom-leaves">
<g id="rb1" clip-path="url(#cut)"><rect class="sr" x="575" y="557" width="8" height="8"/><text class="t3" x="588" y="561">RVA/Vaccine/USA/RotaTeq-WI78-8/1992/G3P7 5</text></g>
<g id="rb2"><rect class="sr" x="539" y="571.35" width="8" height="8"/><text class="t3" x="553" y="575.35">RVA/Vaccine/USA/ROTASIIL-strain:P/G3</text></g>
<g id="rb3"><rect class="sb" x="559" y="585.7" width="8" height="8"/><text class="t3" x="573" y="589.7">RVA/Human-wt/IRN/4/2015/G3</text></g>
<g id="rb4"><rect class="sb" x="560" y="600.05" width="8" height="8"/><text class="t3" x="573" y="604.05">RVA/Human-wt/IRN/13/2015/G3</text></g>
<g id="rb5"><rect class="sb" x="558" y="614.4" width="8" height="8"/><text class="t3" x="572" y="618.4">RVA/Human-wt/IRN/12/2015/G3</text></g>
<g id="rb6"><rect class="sb" x="558" y="628.75" width="8" height="8"/><text class="t3" x="572" y="632.75">RVA/Human-wt/IRN/203/2016/G3</text></g>
<g id="rb7"><rect class="sb" x="559" y="643.1" width="8" height="8"/><text class="t3" x="572" y="647.1">RVA/Human-wt/IRN/115/2016/G3</text></g>
<g id="rb8"><rect class="sb" x="555" y="657.45" width="8" height="8"/><text class="t3" x="569" y="661.45">RVA/Human-wt/IRN/90/2016/G3</text></g>
<g id="rb9"><text class="t3" x="548" y="675.8">RVA/Human-wt/BEL/BE1259/2009/G3P 8</text></g>
<g id="rb10"><rect class="sb" x="553" y="686.15" width="8" height="8"/><text class="t3" x="567" y="690.15">RVA/Human-wt/IRN/71/2016/G3</text></g>
<g id="rb11"><rect class="sb" x="556" y="700.5" width="8" height="8"/><text class="t3" x="569" y="704.5">RVA/Human-wt/IRN/248/2016/G3</text></g>
<g id="rb12"><rect class="sb" x="557" y="714.85" width="8" height="8"/><text class="t3" x="571" y="718.85">RVA/Human-wt/IRN/22/2015/G3</text></g>
<g id="rb13"><rect class="sb" x="557" y="729.2" width="8" height="8"/><text class="t3" x="571" y="733.2">RVA/Human-wt/IRN/344/2017/G3</text></g>
<g id="rb14"><rect class="sb" x="555" y="743.55" width="8" height="8"/><text class="t3" x="569" y="747.55">RVA/Human-wt/IRN/36/2015/G3</text></g>
<g id="rb15"><rect class="sb" x="555" y="757.9" width="8" height="8"/><text class="t3" x="569" y="761.9">RVA/Human-wt/IRN/88/2016/G3</text></g>
<g id="rb16"><rect class="sb" x="555" y="772.25" width="8" height="8"/><text class="t3" x="569" y="776.25">RVA/Human-wt/IRN/334/2017/G3</text></g>
<g id="rb17"><text class="t3" x="548" y="790.6">RVA/Human-wt/CHN/R107/2003/G3P 8</text></g>
<g id="rb18"><text class="t3" x="550" y="804.95">RVA/Human-wt/RUS/Nov05-701/G3/2005/G1G3P8</text></g>
<g id="rb19"><text class="t3" x="551" y="819.3">RVA/Human-wt/RUS/Nov11-N2359/2011/G3P 8</text></g>
<g id="rb20"><text class="t3" x="554" y="833.65">RVA/human-wt/IRN/25/2022/G3P 4</text></g>
<g id="rb21"><text class="t3" x="552" y="848">RVA/Human-wt/IND/ Hu12-COVASU-Udgir/2017/GXP X</text></g>
<g id="rb22"><text class="t3" x="552" y="862.35">RVA/Cow-wt/IND/ Bm317-Parbhani/2017/GXP X</text></g>
<g id="rb23"><rect class="sb" x="557" y="872.7" width="8" height="8"/><text class="t3" x="572" y="876.7">RVA/Human-wt/IRN/331/2017/G3</text></g>
<g id="rb24"><rect class="sb" x="557" y="887.05" width="8" height="8"/><text class="t3" x="572" y="891.05">RVA/Human-wt/IRN/339/2017/G3</text></g>
<g id="rb25"><rect class="sb" x="557" y="901.4" width="8" height="8"/><text class="t3" x="572" y="905.4">RVA/Human-wt/IRN/319/2017/G3</text></g>
<g id="rb26"><text class="t3" x="558" y="919.75">RVA/Human-wt/IND/BCH-10262/2018/G3</text></g>
<g id="rb27"><text class="t3" x="558" y="934.1">RVA/human-wt/IRN/170/2022/G3P 8</text></g>
<g id="rb28"><text class="t3" x="558" y="948.45">RVA/human-wt/IRN/224/2022/G3P 8</text></g>
<g id="rb29"><text class="t3" x="558" y="962.8">RVA/human-wt/IRN/170/2022/G3P 8</text></g>
<g id="rb30"><rect class="sg" x="563" y="973.15" width="8" height="8"/><text class="t3" x="577" y="977.15">RVA/Human-wt/IRN/13/2023/G3P 8</text></g>
<g id="rb31"><text class="t3" x="558" y="991.5">RVA/human-wt/IRN/28/2022/G3P 8</text></g>
<g id="rb32"><text class="t3" x="556" y="1005.85">RVA/Human-wt/PAK/NIH-BBH-4770/2015/G3P 8</text></g>
<g id="rb33"><text class="t3" x="557" y="1020.2">RVA/human-wt/IRN/200/2022/G3P 4</text></g>
<g id="rb34"><text class="t3" x="557" y="1034.55">RVA/human-wt/IRN/200/2022/G3P 4</text></g>
<g id="rb35"><rect class="sg" x="563" y="1044.9" width="8" height="8"/><text class="t3" x="576" y="1048.9">RVA/Human-wt/IRN/156/2024/G3P 8</text></g>
<g id="rb36"><rect class="sg" x="564" y="1059.25" width="8" height="8"/><text class="t3" x="578" y="1063.25">RVA/Human-wt/IRN/274/2024/G3P 8</text></g>
<g id="rb37"><rect class="sg" x="562" y="1073.6" width="8" height="8"/><text class="t3" x="575" y="1077.6">RVA/Human-wt/IRN/26/2024/G3P 8</text></g>
<g id="rb38"><rect class="sg" x="564" y="1087.95" width="8" height="8"/><text class="t3" x="578" y="1091.95">RVA/Human-wt/IRN/15/2023/G3P 8</text></g>
<g id="rb39"><rect class="sg" x="567" y="1102.3" width="8" height="8"/><text class="t3" x="581" y="1106.3">RVA/Human-wt/IRN/143/2024/G3P 8</text></g>
<g id="rb40"><rect class="sg" x="564" y="1116.65" width="8" height="8"/><text class="t3" x="578" y="1120.65">RVA/Human-wt/IRN/109/2024/G3P 8</text></g>
<g id="rb41"><rect class="sg" x="559" y="1131" width="8" height="8"/><text class="t3" x="573" y="1135">RVA/Human-wt/IRN/7/2023/G3P 8</text></g>
<g id="rb42"><rect class="sg" x="569" y="1145.35" width="8" height="8"/><text class="t3" x="583" y="1149.35">RVA/Human-wt/IRN/300/2024/G3P 8</text></g>
<g id="rb43"><rect class="sg" x="564" y="1159.7" width="8" height="8"/><text class="t3" x="578" y="1163.7">RVA/Human-wt/IRN/4/2023/G3P 8</text></g>
<g id="rb44"><rect class="sg" x="559" y="1174.05" width="8" height="8"/><text class="t3" x="573" y="1178.05">RVA/Human-wt/IRN/166/2024/G3P 8</text></g>
<g id="rb45"><rect class="sg" x="563" y="1188.4" width="8" height="8"/><text class="t3" x="576" y="1192.4">RVA/Human-wt/IRN/33/2024/G3P 8</text></g>
<g id="rb46"><rect class="sg" x="564" y="1202.75" width="8" height="8"/><text class="t3" x="578" y="1206.75">RVA/Human-wt/IRN/133/2024/G3P 8</text></g>
<g id="rb47"><rect class="sg" x="562" y="1217.1" width="8" height="8"/><text class="t3" x="575" y="1221.1">RVA/Human-wt/IRN/40/2024/G3P 8</text></g>
<g id="rb48"><rect class="sg" x="566" y="1231.45" width="8" height="8"/><text class="t3" x="580" y="1235.45">RVA/Human-wt/IRN/140/2024/G3P 8</text></g>
<g id="rb49"><rect class="sg" x="573" y="1245.8" width="8" height="8"/><text class="t3" x="587" y="1249.8">RVA/Human-wt/IRN/188/2024/G3P 8</text></g>
<g id="rb50"><rect class="sg" x="572" y="1260.15" width="8" height="8"/><text class="t3" x="585" y="1264.15">RVA/Human-wt/IRN/183/2024/G3P 8</text></g>
<g id="rb51"><rect class="sg" x="568" y="1274.5" width="8" height="8"/><text class="t3" x="582" y="1278.5">RVA/Human-wt/IRN/159/2024/G3P 8</text></g>
<g id="rb52"><rect class="sg" x="564" y="1288.85" width="8" height="8"/><text class="t3" x="578" y="1292.85">RVA/Human-wt/IRN/145/2024/G3P 8</text></g>
<g id="rb53"><rect class="sg" x="564" y="1303.2" width="8" height="8"/><text class="t3" x="578" y="1307.2">RVA/Human-wt/IRN/239/2024/G3P 8</text></g>
</g>
</svg>
